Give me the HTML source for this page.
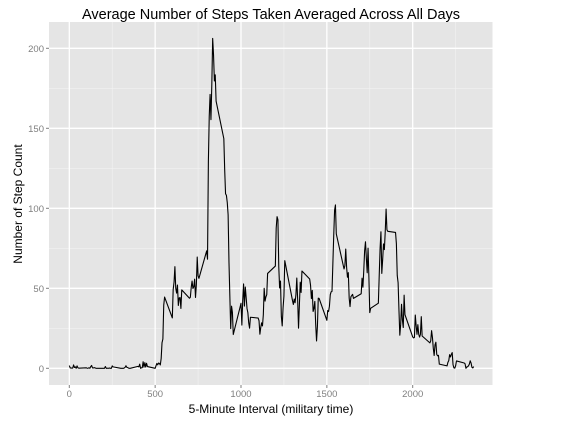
<!DOCTYPE html>
<html><head><meta charset="utf-8"><style>
body{margin:0;background:#fff;}
svg{display:block;font-family:"Liberation Sans",sans-serif;}
</style></head><body>
<svg id="chart" width="568" height="422" viewBox="0 0 568 422">
<rect x="0" y="0" width="568" height="422" fill="#fff"/>
<rect x="49" y="22" width="443.5" height="363" fill="#E5E5E5"/>
<g id="grid"></g>
<g id="axes"></g>
<path id="line" fill="none" stroke="#000" stroke-width="1.1" stroke-linejoin="round"/>
<text x="271" y="19" text-anchor="middle" font-size="14.5" fill="#000">Average Number of Steps Taken Averaged Across All Days</text>
<text x="271" y="413" text-anchor="middle" font-size="12" fill="#000">5-Minute Interval (military time)</text>
<text transform="translate(22,204) rotate(-90)" text-anchor="middle" font-size="12" fill="#000">Number of Step Count</text>
</svg>
<script>
const intervals=[0,5,10,15,20,25,30,35,40,45,50,55,100,105,110,115,120,125,130,135,140,145,150,155,200,205,210,215,220,225,230,235,240,245,250,255,300,305,310,315,320,325,330,335,340,345,350,355,400,405,410,415,420,425,430,435,440,445,450,455,500,505,510,515,520,525,530,535,540,545,550,555,600,605,610,615,620,625,630,635,640,645,650,655,700,705,710,715,720,725,730,735,740,745,750,755,800,805,810,815,820,825,830,835,840,845,850,855,900,905,910,915,920,925,930,935,940,945,950,955,1000,1005,1010,1015,1020,1025,1030,1035,1040,1045,1050,1055,1100,1105,1110,1115,1120,1125,1130,1135,1140,1145,1150,1155,1200,1205,1210,1215,1220,1225,1230,1235,1240,1245,1250,1255,1300,1305,1310,1315,1320,1325,1330,1335,1340,1345,1350,1355,1400,1405,1410,1415,1420,1425,1430,1435,1440,1445,1450,1455,1500,1505,1510,1515,1520,1525,1530,1535,1540,1545,1550,1555,1600,1605,1610,1615,1620,1625,1630,1635,1640,1645,1650,1655,1700,1705,1710,1715,1720,1725,1730,1735,1740,1745,1750,1755,1800,1805,1810,1815,1820,1825,1830,1835,1840,1845,1850,1855,1900,1905,1910,1915,1920,1925,1930,1935,1940,1945,1950,1955,2000,2005,2010,2015,2020,2025,2030,2035,2040,2045,2050,2055,2100,2105,2110,2115,2120,2125,2130,2135,2140,2145,2150,2155,2200,2205,2210,2215,2220,2225,2230,2235,2240,2245,2250,2255,2300,2305,2310,2315,2320,2325,2330,2335,2340,2345,2350,2355];
const steps=[1.7,0.3,0.1,0.2,0.1,2.1,0.5,0.9,0,1.5,0.3,0.1,0.3,0,0.1,0.3,0,1.1,1.8,0.2,0.2,0.4,0.3,0,0,0,1.1,0,0,0.1,0,0.2,0,0,1.5,0.9,0,0,0,0,0.2,0.6,1.6,0.6,0.5,0.1,0,0,1.2,0.9,2.6,0,0.3,0.4,4.1,0.7,3.5,0.8,3.1,1.1,0,1.6,3,2.2,3.3,3,2.1,6.1,16,18.3,39.5,44.5,31.5,49.3,53.8,63.5,50,47,52,39.3,44,44.2,37.4,49,43.8,44.4,50.5,54.5,49.9,50.9,55.7,44.3,52.3,69.5,57.8,56.2,73.4,68.2,129.4,157.5,171.2,155.4,177.3,206.2,195.9,179.6,183.4,167,143.5,124,109.1,108.1,103.7,95.9,66.2,45.2,24.8,38.8,35,21.1,40.6,27,42.4,52.7,38.9,50.8,44.3,37.4,34.7,28.3,25.1,31.9,31.4,29.7,21.3,25.5,28.4,26.5,33.4,50,42,44.6,46,59.3,63.9,87.7,94.8,92.8,63.4,50.2,54.5,32.4,26.5,37.7,45.1,67.3,42.3,39.9,43.3,41,46.2,56.4,42.8,25.1,39.5,53.8,47.4,60.8,55.8,51.9,43.6,48.7,35.5,37.5,41.8,27.5,17.1,26.1,43.8,43.7,30,36.1,35.5,38.8,46,47.8,48.1,65.3,82.9,98.7,102.1,84,62.1,64.1,74.5,63.2,56.9,59.8,43.9,38.6,44.7,45.5,46.2,43.7,46.6,56.3,50.7,61.2,73.4,79.1,68.9,59.7,75.1,56.5,34.8,37.5,40.7,58,74.7,85.3,59.3,67.8,77.7,74.2,85.3,99.5,86.6,85.6,84.9,77.8,58,53.4,36.3,20.7,27.4,40,30.2,25.5,45.7,33.5,19.6,19,19.3,33.3,26.8,21.2,27.3,21.3,19.5,21.3,32.3,20.2,15.9,17.2,23.5,19.2,12.5,8,14.7,16.3,8.7,7.8,8.1,2.6,1.5,3.7,4.8,8.5,7.1,8.7,9.8,2.2,0.3,0.1,1.6,4.6,3.3,2.8,0,0.8,1,1.6,2.6,4.7,3.3,0.6,0.2,1.1];
const xTicks=[0,500,1000,1500,2000];
const xMinor=[250,750,1250,1750,2250];
const yTicks=[0,50,100,150,200];
const yMinor=[25,75,125,175];
const NS='http://www.w3.org/2000/svg';
const PL=49,PR=492.5,PT=22,PB=385;
function sx(v){return 69.3+v*0.1717;}
function sy(v){return 368.3-v*1.6;}
const grid=document.getElementById('grid'),axes=document.getElementById('axes');
function ln(g,x1,y1,x2,y2,c,w){const l=document.createElementNS(NS,'line');l.setAttribute('x1',x1);l.setAttribute('y1',y1);l.setAttribute('x2',x2);l.setAttribute('y2',y2);l.setAttribute('stroke',c);l.setAttribute('stroke-width',w);g.appendChild(l);return l;}
function tx(g,x,y,s,a){const t=document.createElementNS(NS,'text');t.setAttribute('x',x);t.setAttribute('y',y);t.setAttribute('text-anchor',a);t.setAttribute('font-size','9.5');t.setAttribute('fill','#7F7F7F');t.textContent=s;g.appendChild(t);return t;}
xMinor.forEach(v=>{const l=ln(grid,sx(v),PT,sx(v),PB,'#F2F2F2',0.6);

});
yMinor.forEach(v=>{const l=ln(grid,PL,sy(v),PR,sy(v),'#F2F2F2',0.6);

});
xTicks.forEach(v=>{const l=ln(grid,sx(v),PT,sx(v),PB,'#fff',1.3);


const k=ln(axes,sx(v),PB,sx(v),PB+3,'#7F7F7F',1);


const t=tx(axes,sx(v),PB+12,String(v),'middle');

});
yTicks.forEach(v=>{const l=ln(grid,PL,sy(v),PR,sy(v),'#fff',1.3);


const k=ln(axes,PL-3,sy(v),PL,sy(v),'#7F7F7F',1);


const t=tx(axes,PL-5,sy(v)+3.5,String(v),'end');

});
document.getElementById('line').setAttribute('d',intervals.map((v,i)=>(i?'L':'M')+sx(v).toFixed(2)+','+sy(steps[i]).toFixed(2)).join(''));
</script>
</body></html>
